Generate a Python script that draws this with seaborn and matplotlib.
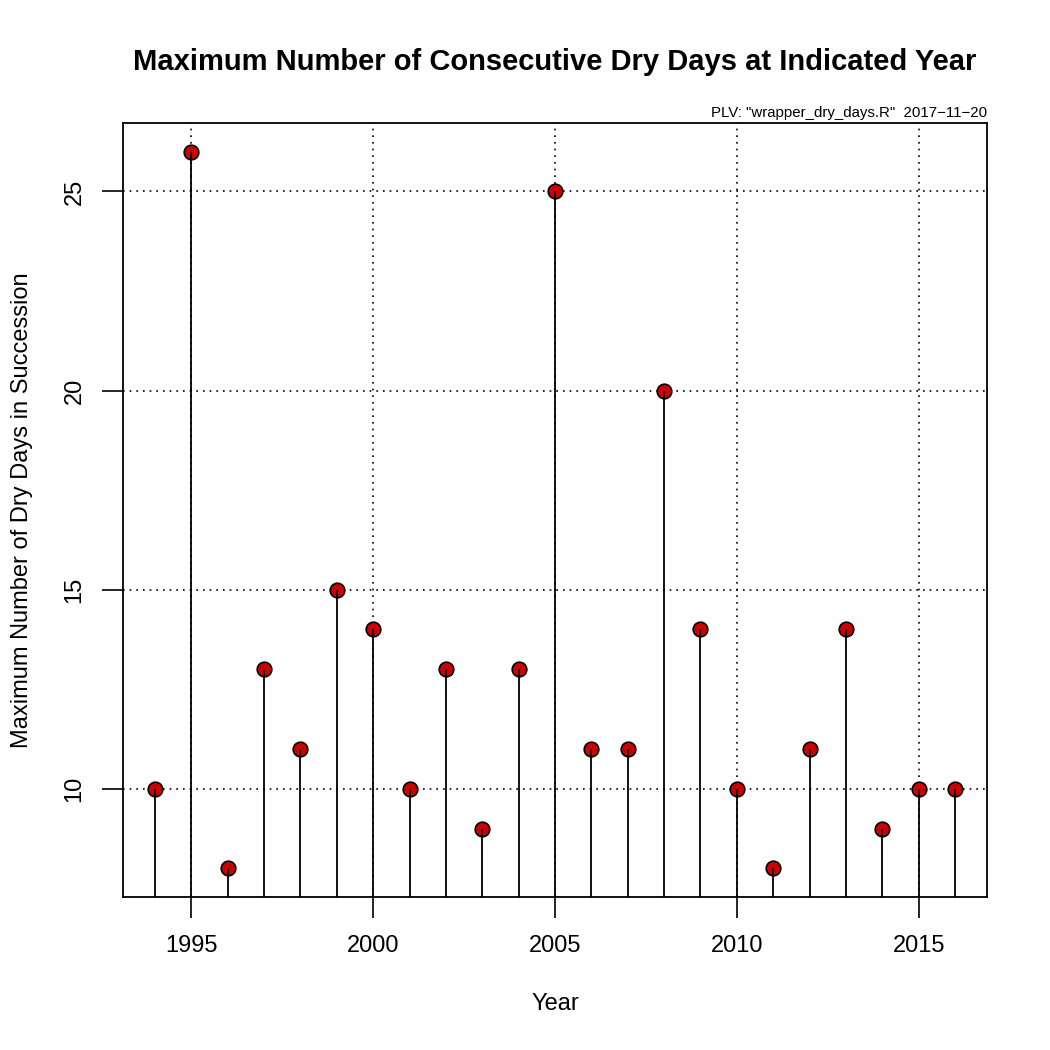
import numpy as np
import pandas as pd
import seaborn as sns
from matplotlib import pyplot as plt

years = list(range(1994, 2017))
dry_days = [10, 26, 8, 13, 11, 15, 14, 10, 13, 9, 13, 25, 11, 11, 20, 14, 10, 8, 11, 14, 9, 10, 10]
x_ticks = [1995, 2000, 2005, 2010, 2015]
y_ticks = [10, 15, 20, 25]

df = pd.DataFrame({'Year': years, 'Days': dry_days})

sns.set_style('white')
plt.rcParams['font.family'] = ['Liberation Sans', 'DejaVu Sans']
plt.rcParams['text.color'] = 'black'
plt.rcParams['axes.labelcolor'] = 'black'

fig = plt.figure(figsize=(10.5, 10.5), dpi=100)
ax = fig.add_axes([123 / 1050, 153 / 1050, 864 / 1050, 774 / 1050])

ax.set_xlim(1993.12, 2016.88)
ax.set_ylim(7.28, 26.72)

for x in x_ticks:
    ax.axvline(x, color='black', linestyle=(0, (1, 3)), linewidth=1.2, zorder=1)
for y in y_ticks:
    ax.axhline(y, color='black', linestyle=(0, (1, 3)), linewidth=1.2, zorder=1)

sns.scatterplot(data=df, x='Year', y='Days', ax=ax, s=110, color='#CC0000',
                edgecolor='black', linewidth=1.2, zorder=3, legend=False)
ax.vlines(df['Year'], 0, df['Days'], color='black', linewidth=1.3, zorder=4)

ax.set_xticks(x_ticks)
ax.set_yticks(y_ticks)
ax.set_yticklabels([str(v) for v in y_ticks], rotation=90, va='center')
ax.tick_params(axis='both', direction='out', length=15, width=1.2, labelsize=17,
               pad=12, bottom=True, left=True, colors='black')
for s in ax.spines.values():
    s.set_color('black')
    s.set_linewidth(1.3)

ax.set_xlabel('Year', fontsize=17, labelpad=26, color='black')
ax.set_ylabel('Maximum Number of Dry Days in Succession', fontsize=17, labelpad=22, color='black')
fig.text(555 / 1050, 1 - 62 / 1050, 'Maximum Number of Consecutive Dry Days at Indicated Year',
         ha='center', va='center', fontsize=21, fontweight='bold', color='black')
fig.text(987 / 1050, 1 - 113 / 1050, 'PLV: "wrapper_dry_days.R"  2017\u221211\u221220',
         ha='right', va='center', fontsize=10.8, color='black')

fig.savefig('out.png', dpi=100)
